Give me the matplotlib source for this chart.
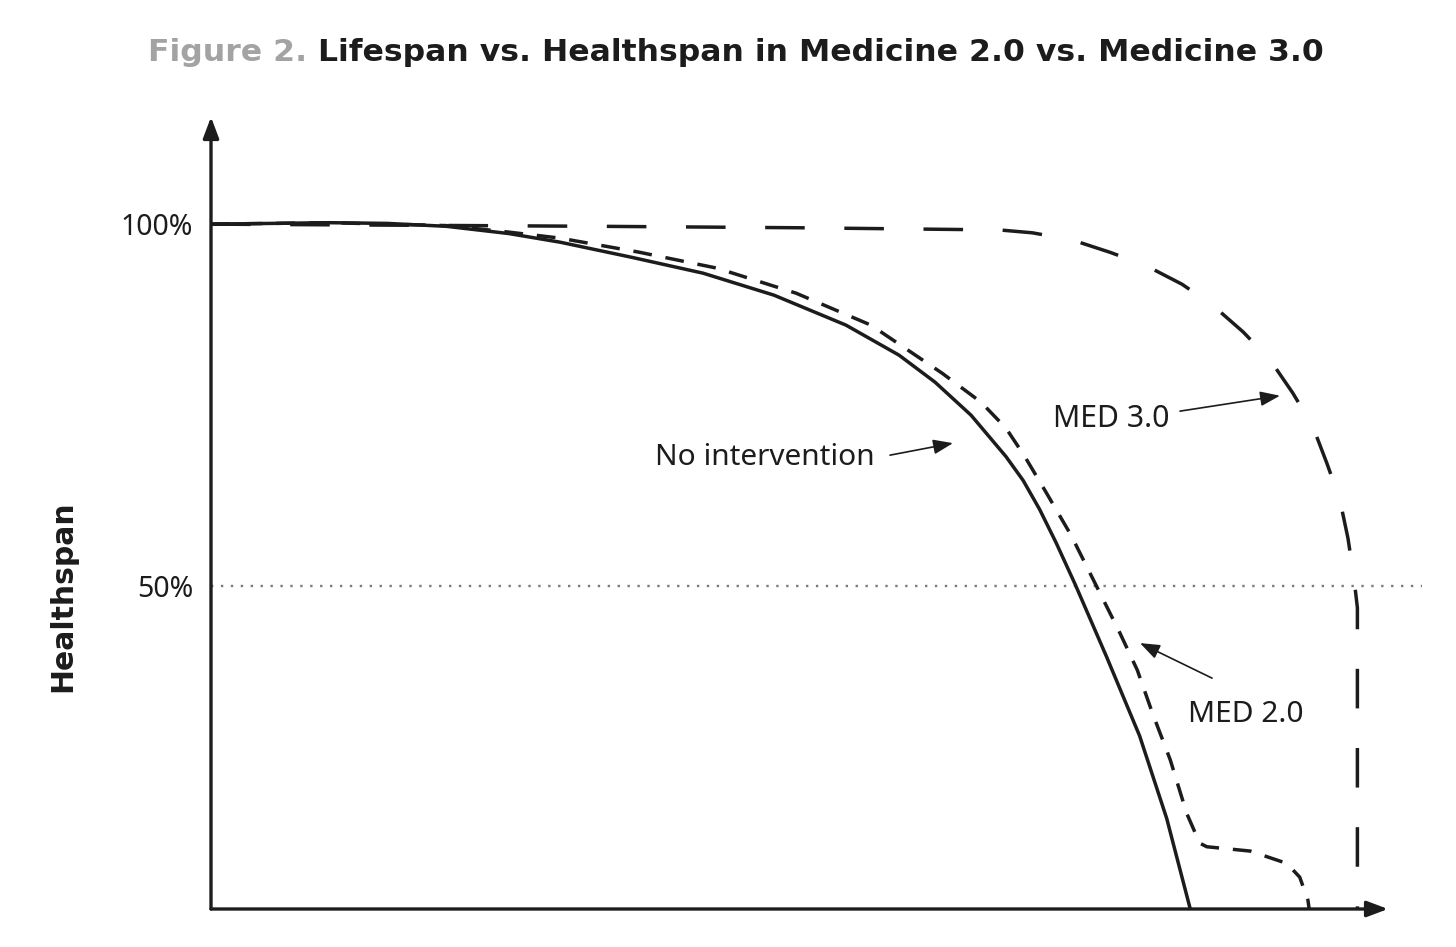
import matplotlib.pyplot as plt

plt.rcParams['font.family'] = ['Noto Sans', 'DejaVu Sans']

# values: x = lifespan (0-100 along the axis), y = healthspan %
no_int_x = [0, 5.1, 10.1, 15, 20, 25.3, 29.65, 35.68, 41.8, 47.83, 53.95, 58.45, 61.51, 64.57,
            67.54, 69.0, 70.4, 71.8, 73.45, 76.1, 78.9, 81.2, 83.2]
no_int_y = [100, 100.1, 100.2, 100.1, 99.7, 98.7, 97.51, 95.44, 93.23, 90.19, 86.05, 81.91, 78.18,
            73.62, 67.9, 64.6, 60.6, 56.0, 50.14, 40.2, 29.3, 17.9, 5.4]

med2_x = [0, 10.1, 20, 25.3, 29.65, 36.36, 42.99, 49.7, 56.07, 62.11, 65.42, 67.54, 69.07, 70.94,
          73.07, 75.19, 77.2, 78.7, 80.0, 81.5, 82.9, 84.0, 84.6, 88.3, 91.4, 92.5, 93.2, 93.3]
med2_y = [100, 100.2, 99.8, 98.9, 98.07, 96.13, 93.92, 90.47, 86.05, 79.42, 75.41, 71.82, 68.09,
          62.98, 57.04, 50.14, 43.6, 38.4, 32.4, 26.0, 18.6, 14.5, 14.0, 13.4, 11.7, 9.8, 6.6, 5.4]

med3_x = [0, 33, 50, 67, 69.8, 73.2, 76.4, 79.4, 82.5, 85.1, 87.7, 90.0, 91.9, 93.6, 94.8,
          95.9, 96.6, 97.1, 97.4, 97.4]
med3_y = [100, 99.7, 99.5, 99.2, 98.8, 97.8, 96.1, 94.3, 91.7, 88.8, 85.1, 81.2, 76.7, 72.1, 67.0,
          62.0, 56.6, 51.2, 47.0, 5.4]

ytick_vals = [50, 100]
ytick_labels = ['50%', '100%']

ink = '#1c1c1c'
W, H = 1456, 947
fig = plt.figure(figsize=(W / 100, H / 100), dpi=100)
r = fig.canvas.get_renderer()


def fit_width(t, px, vertical=False):
    # scale a text's font size so it spans about px pixels
    bb = t.get_window_extent(renderer=r)
    cur = bb.height if vertical else bb.width
    t.set_fontsize(t.get_fontsize() * px / cur)


ax = fig.add_axes([211 / W, 38 / H, (1388 - 211) / W, (909 - 117) / H])
ax.set_xlim(0, 100)
ax.set_ylim(5.4, 114.8)
for s in ax.spines.values():
    s.set_visible(False)
ax.set_xticks([])
ax.set_yticks(ytick_vals, ytick_labels)
ax.tick_params(axis='y', length=0, pad=13, labelsize=20.5, labelcolor=ink)

# 50% reference line
ax.plot([0, 102.9], [50, 50], color='#7a7a7a', lw=1.7, dashes=(1, 3.2), clip_on=False)

ax.plot(no_int_x, no_int_y, color=ink, lw=2.5, solid_joinstyle='round')
ax.plot(med2_x, med2_y, color=ink, lw=2.5, dashes=(5.4, 4.0))
ax.plot(med3_x, med3_y, color=ink, lw=2.5, dashes=(11.4, 11.4))

# axes with arrow heads
axis_arrow = dict(arrowstyle='-|>,head_length=0.85,head_width=0.32', lw=2.4, color=ink,
                  mutation_scale=15, shrinkA=0, shrinkB=0)
ax.annotate('', xy=(0, 114.8), xytext=(0, 5.4), arrowprops=axis_arrow, annotation_clip=False)
ax.annotate('', xy=(100, 5.4), xytext=(0, 5.4), arrowprops=axis_arrow, annotation_clip=False)

lab_arrow = dict(arrowstyle='-|>,head_length=0.8,head_width=0.3', lw=1.2, color=ink,
                 mutation_scale=15, shrinkA=0, shrinkB=0)
ax.annotate('', xy=(63.04, 69.75), xytext=(57.69, 68.09), arrowprops=lab_arrow)
t = ax.text(37.7, 66.7, 'No intervention', fontsize=20, color=ink, va='baseline', ha='left')
fit_width(t, 220)

ax.annotate('', xy=(90.82, 76.3), xytext=(82.33, 74.17), arrowprops=lab_arrow)
t = ax.text(71.54, 72.0, 'MED 3.0', fontsize=20, color=ink, va='baseline', ha='left')
fit_width(t, 117)

ax.annotate('', xy=(78.93, 42.13), xytext=(85.05, 37.29), arrowprops=lab_arrow)
t = ax.text(83.0, 31.2, 'MED 2.0', fontsize=20, color=ink, va='baseline', ha='left')
fit_width(t, 116)

bold = ['DejaVu Sans']
t = fig.text(63 / W, 1 - 596 / H, 'Healthspan', rotation=90, fontsize=23, fontweight='bold',
             family=bold, color=ink, ha='center', va='center')
fit_width(t, 192, vertical=True)

# title in two colours
t1 = fig.text(148 / W, 1 - 61 / H, 'Figure 2. ', fontsize=25, fontweight='bold', family=bold,
              color='#a3a3a3', ha='left', va='baseline')
t2 = fig.text(0.5, 1 - 61 / H, 'Lifespan vs. Healthspan in Medicine 2.0 vs. Medicine 3.0',
              fontsize=25, fontweight='bold', family=bold, color=ink, ha='left', va='baseline')
b1 = t1.get_window_extent(renderer=r)
b2 = t2.get_window_extent(renderer=r)
k = (1325 - 148) / (b1.width + b2.width)
t1.set_fontsize(25 * k)
t2.set_fontsize(25 * k)
t2.set_x(t1.get_window_extent(renderer=r).x1 / W)

fig.savefig('out.png', dpi=100)
